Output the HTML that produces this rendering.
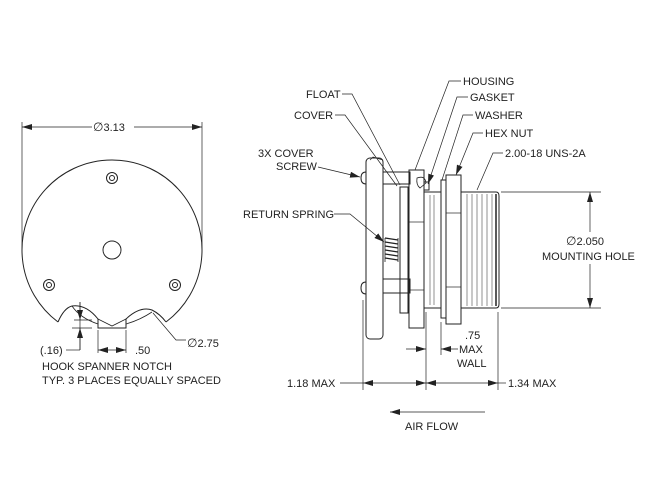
<!DOCTYPE html>
<html><head><style>
html,body{margin:0;padding:0;background:#fff;}
svg{display:block;}
text{font-family:"Liberation Sans",sans-serif;font-size:11px;fill:#222;}
.d{font-family:"DejaVu Sans",sans-serif;font-size:12px;}
</style></head><body>
<svg width="647" height="497" viewBox="0 0 647 497" xmlns="http://www.w3.org/2000/svg">
<defs>
<marker id="a" markerWidth="10" markerHeight="6" refX="10" refY="3" orient="auto-start-reverse" markerUnits="userSpaceOnUse"><path d="M0,0 L10,3 L0,6 z" fill="#222"/></marker>
</defs>
<g fill="none" stroke="#222" stroke-width="1">
<!-- FRONT VIEW -->
<line x1="22" y1="122" x2="22" y2="250" stroke-width="0.7"/>
<line x1="202" y1="122" x2="202" y2="250" stroke-width="0.7"/>
<line x1="22" y1="127" x2="92" y2="127" stroke-width="0.7" marker-start="url(#a)"/>
<line x1="134" y1="127" x2="202" y2="127" stroke-width="0.7" marker-end="url(#a)"/>
<path d="M58,322 A90,90 0 1,1 166,322"/>
<path d="M58,322 Q64,308 72,306 Q86,304 98,319 L98,328 L126,328 L126,319 Q140,306 152,310 Q160,314 166,322"/>
<path d="M98,319 L112,326 L126,319" stroke-width="0.8"/>
<path d="M72,306 Q80,318 98,324 M126,324 Q140,320 152,312" stroke-width="0.8"/>
<circle cx="112" cy="250" r="9"/>
<circle cx="112" cy="178" r="5.5"/><circle cx="112" cy="178" r="2.5"/>
<circle cx="49" cy="285" r="5.5"/><circle cx="49" cy="285" r="2.5"/>
<circle cx="175" cy="285" r="5.5"/><circle cx="175" cy="285" r="2.5"/>
<!-- notch dims -->
<line x1="80" y1="302" x2="80" y2="350" stroke-width="0.7"/>
<line x1="74" y1="320" x2="92" y2="320" stroke-width="0.7"/>
<line x1="72" y1="328" x2="92" y2="328" stroke-width="0.7"/>
<line x1="80" y1="302" x2="80" y2="320" stroke-width="0.7" marker-end="url(#a)"/>
<line x1="80" y1="350" x2="80" y2="328" stroke-width="0.7" marker-end="url(#a)"/>
<line x1="66" y1="350" x2="80" y2="350" stroke-width="0.7"/>
<line x1="98" y1="330" x2="98" y2="353" stroke-width="0.7"/>
<line x1="126" y1="330" x2="126" y2="353" stroke-width="0.7"/>
<line x1="98" y1="350" x2="126" y2="350" stroke-width="0.7" marker-start="url(#a)" marker-end="url(#a)"/>
<path d="M153,313 L176,340 L186,340" stroke-width="0.7"/>

<!-- SIDE VIEW -->
<rect x="366" y="158" width="17" height="181" rx="4"/>
<path d="M366,172 q-5,0 -5,6 q0,6 5,6"/>
<path d="M366,282 q-5,0 -5,6 q0,6 5,6"/>
<rect x="383" y="172" width="27" height="12"/>
<rect x="383" y="279" width="27" height="14"/>
<rect x="400" y="187" width="8" height="126"/>
<rect x="409" y="170" width="15" height="158"/>
<line x1="409" y1="222" x2="424" y2="222" stroke-width="0.7"/>
<line x1="409" y1="290" x2="424" y2="290" stroke-width="0.7"/>
<path d="M417,178 q8,-3 9,5 l-6,5 q-4,-3 -3,-10z" stroke-width="0.8"/>
<rect x="424" y="182" width="5" height="8"/>
<rect x="424" y="192" width="17" height="116"/>
<line x1="430" y1="195" x2="430" y2="305" stroke-width="0.5"/>
<line x1="434" y1="195" x2="434" y2="305" stroke-width="0.5"/>
<rect x="441" y="180" width="5" height="138"/>
<rect x="446" y="175" width="15" height="149"/>
<line x1="446" y1="213" x2="461" y2="213" stroke-width="0.7"/>
<line x1="446" y1="287" x2="461" y2="287" stroke-width="0.7"/>
<path d="M461,192 L496,192 Q499,192 499,196 L499,304 Q499,308 496,308 L461,308" />
<g stroke-width="0.5">
<line x1="467" y1="194" x2="467" y2="306"/><line x1="472" y1="194" x2="472" y2="306"/>
<line x1="477" y1="194" x2="477" y2="306"/><line x1="482" y1="194" x2="482" y2="306"/>
<line x1="487" y1="194" x2="487" y2="306"/><line x1="492" y1="194" x2="492" y2="306"/>
</g>
<line x1="496" y1="194" x2="496" y2="306" stroke-width="1.5"/>
<!-- spring -->
<g stroke-width="1.3">
<path d="M385,238 L398,240 M385,242 L398,244 M385,246 L398,248 M385,250 L398,252 M385,254 L398,256 M385,258 L398,260"/>
<path d="M385,238 L385,262 M398,238 L398,262" stroke-width="0.8"/>
</g>
<!-- mounting hole dim -->
<line x1="501" y1="192" x2="601" y2="192" stroke-width="0.7"/>
<line x1="501" y1="308" x2="601" y2="308" stroke-width="0.7"/>
<line x1="590" y1="232" x2="590" y2="192" stroke-width="0.7" marker-end="url(#a)"/>
<line x1="590" y1="264" x2="590" y2="308" stroke-width="0.7" marker-end="url(#a)"/>
<!-- ext lines -->
<g stroke-width="0.7">
<line x1="363" y1="300" x2="363" y2="390"/>
<line x1="426" y1="312" x2="426" y2="390"/>
<line x1="441" y1="322" x2="441" y2="355"/>
<line x1="498" y1="312" x2="498" y2="390"/>
<line x1="406" y1="349" x2="426" y2="349" marker-end="url(#a)"/>
<line x1="458" y1="349" x2="441" y2="349" marker-end="url(#a)"/>
<line x1="340" y1="383" x2="363" y2="383"/>
<line x1="363" y1="383" x2="426" y2="383" marker-start="url(#a)" marker-end="url(#a)"/>
<line x1="426" y1="383" x2="498" y2="383" marker-start="url(#a)" marker-end="url(#a)"/>
<line x1="498" y1="383" x2="506" y2="383"/>
<line x1="485" y1="412" x2="390" y2="412" marker-end="url(#a)"/>
<!-- leaders -->
<path d="M342,94 L352,94 L400,185"/>
<path d="M335,115 L345,115 L397,186"/>
<path d="M318,167 L360,177" marker-end="url(#a)"/>
<path d="M334,214 L350,214 L384,242" marker-end="url(#a)"/>
<path d="M461,81 L449,81 L415,170"/>
<path d="M468,97 L457,97 L428,184" marker-end="url(#a)"/>
<path d="M473,115 L463,115 L442,180"/>
<path d="M483,133 L473,133 L456,175" marker-end="url(#a)"/>
<path d="M503,153 L493,153 L477,190"/>
<path d="M370,160 L373,157 L383,160" stroke-width="0.7"/>
</g>
</g>
<g>
<text x="93" y="131"><tspan class="d">∅</tspan>3.13</text>
<text x="40" y="354">(.16)</text>
<text x="135" y="354">.50</text>
<text x="187" y="347"><tspan class="d">∅</tspan>2.75</text>
<text x="42" y="370">HOOK SPANNER NOTCH</text>
<text x="42" y="384">TYP. 3 PLACES EQUALLY SPACED</text>
<text x="306" y="98">FLOAT</text>
<text x="294" y="119">COVER</text>
<text x="258" y="157">3X COVER</text>
<text x="276" y="170">SCREW</text>
<text x="243" y="218">RETURN SPRING</text>
<text x="463" y="85">HOUSING</text>
<text x="470" y="101">GASKET</text>
<text x="475" y="119">WASHER</text>
<text x="485" y="137">HEX NUT</text>
<text x="505" y="157">2.00-18 UNS-2A</text>
<text x="566" y="245"><tspan class="d">∅</tspan>2.050</text>
<text x="542" y="260">MOUNTING HOLE</text>
<text x="465" y="339">.75</text>
<text x="459" y="353">MAX</text>
<text x="457" y="367">WALL</text>
<text x="287" y="387">1.18 MAX</text>
<text x="508" y="387">1.34 MAX</text>
<text x="405" y="430">AIR FLOW</text>
</g>
</svg>
</body></html>
